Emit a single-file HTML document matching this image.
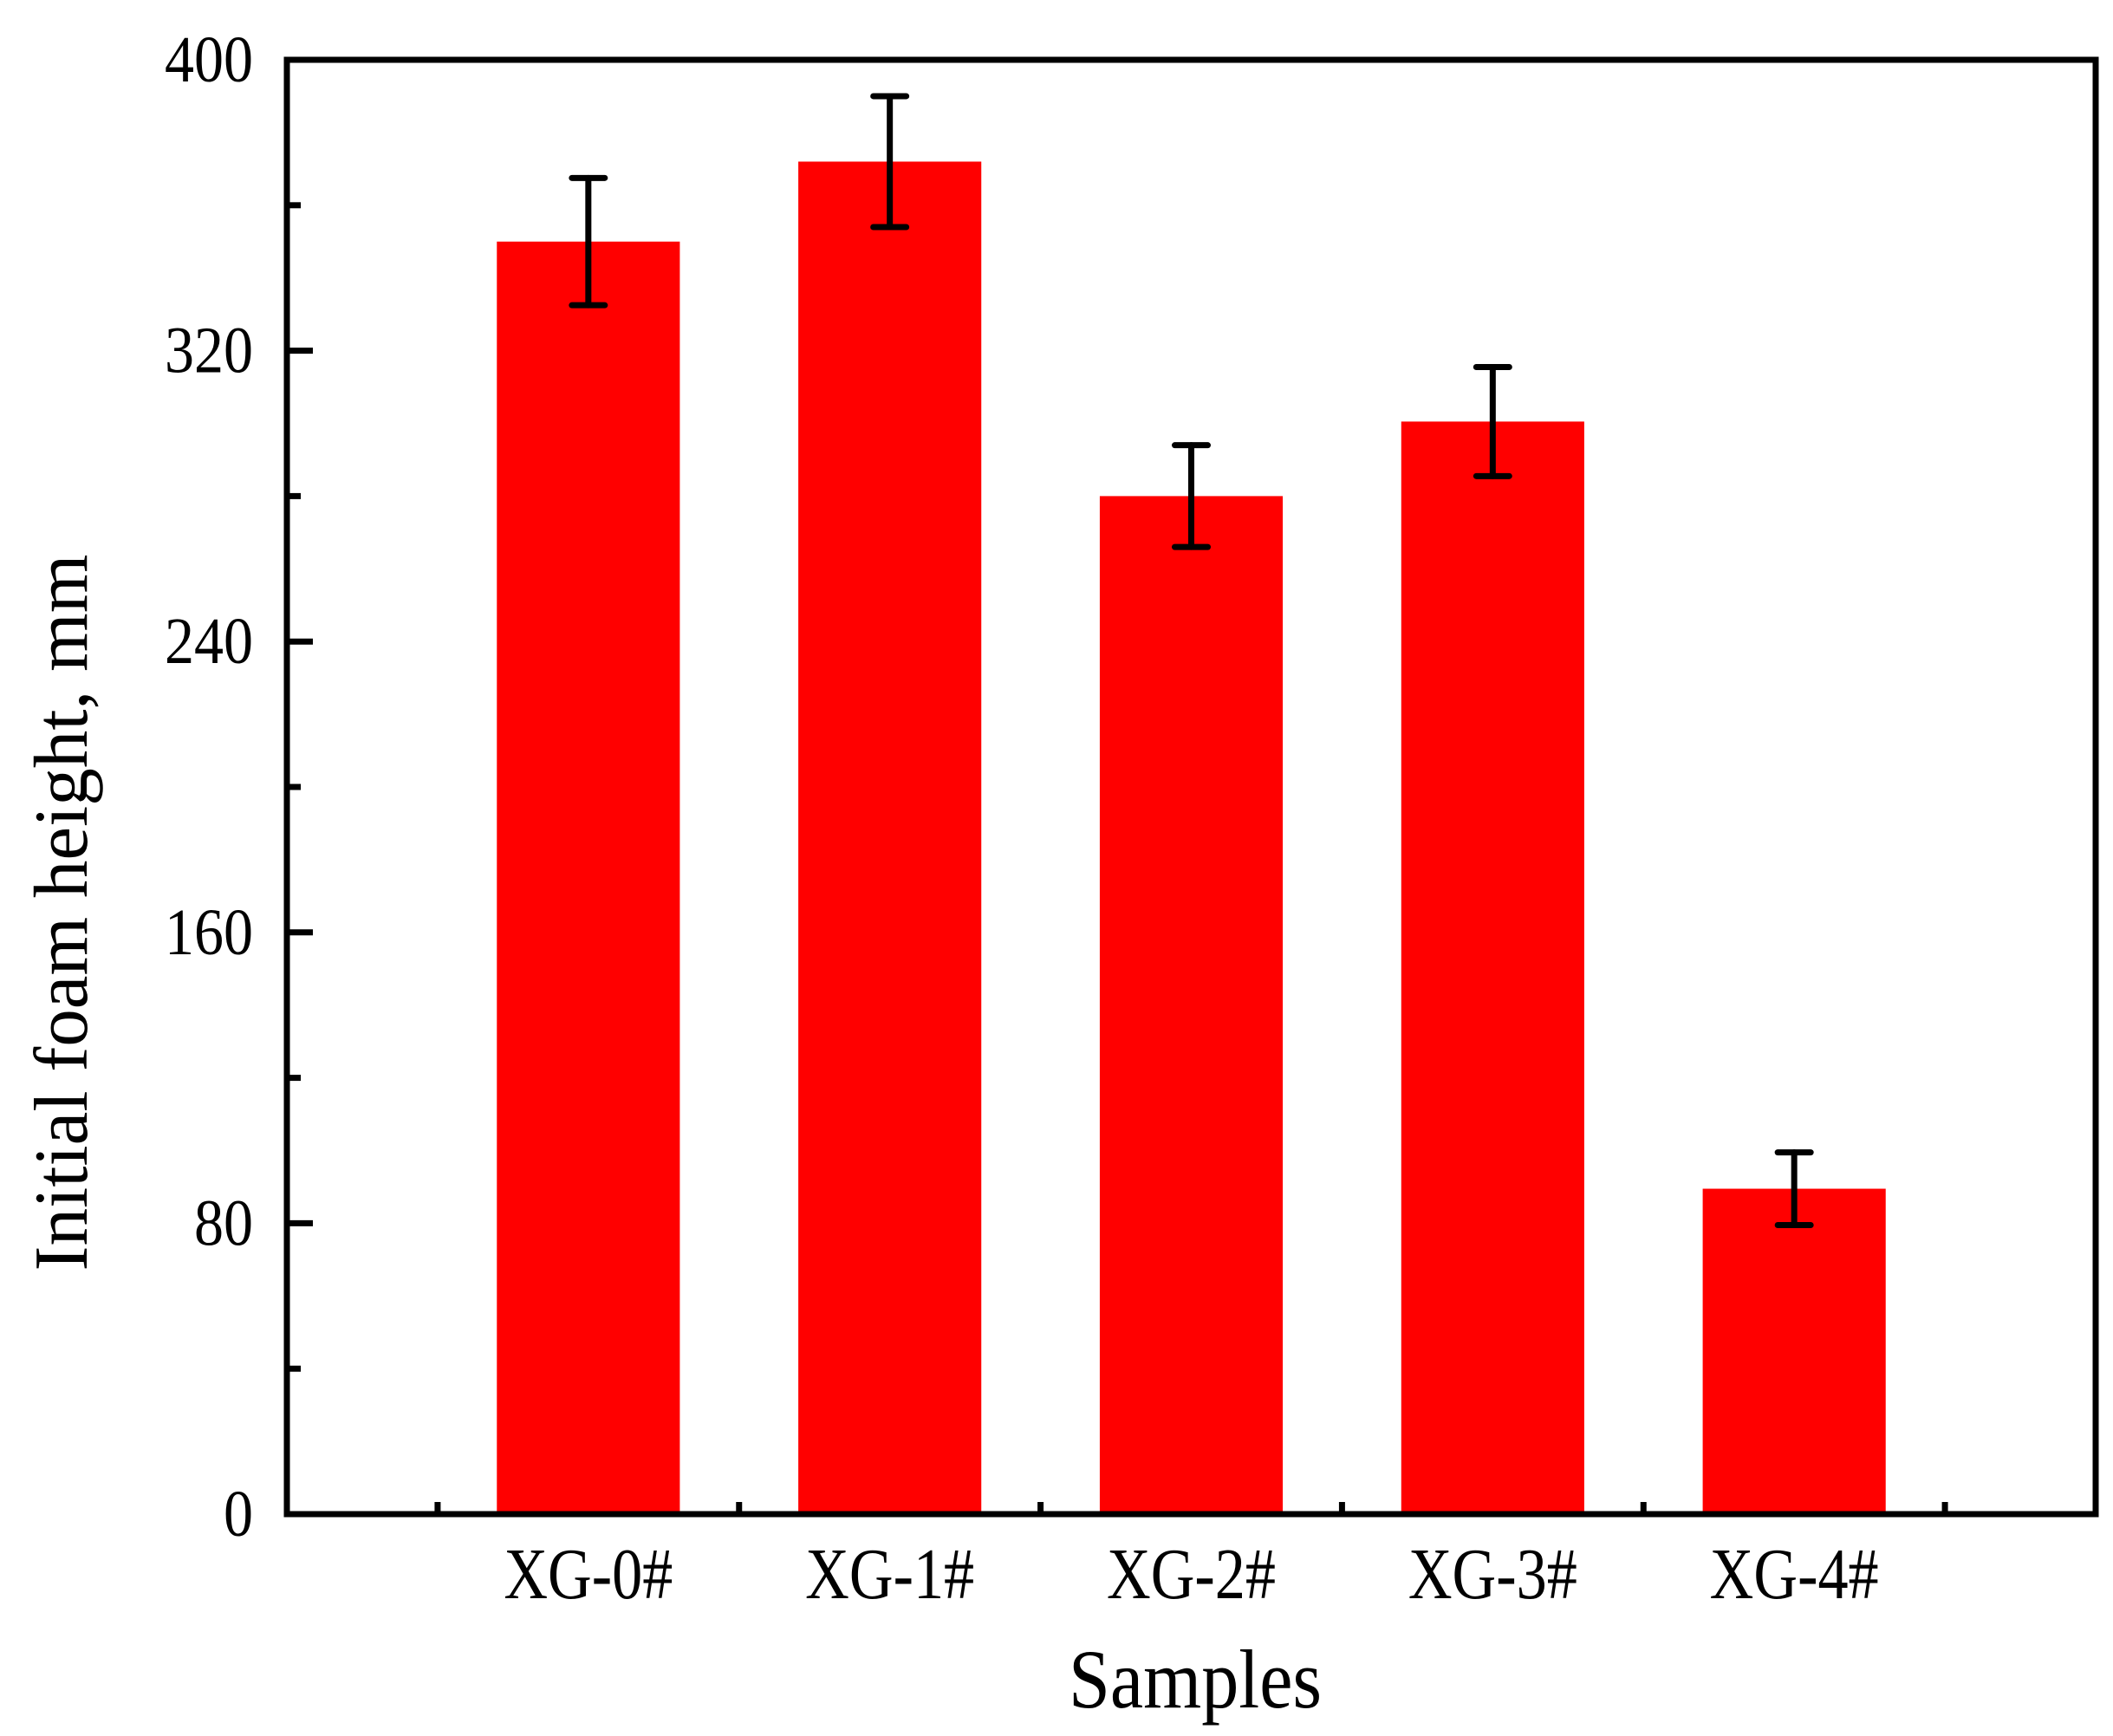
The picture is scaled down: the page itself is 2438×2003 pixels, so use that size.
<!DOCTYPE html>
<html><head><meta charset="utf-8"><style>
html,body{margin:0;padding:0;background:#fff;}
svg{display:block;}
text{font-family:"Liberation Serif",serif;fill:#000;}
</style></head><body>
<svg id="chart" width="2438" height="2003" viewBox="0 0 2438 2003" xmlns="http://www.w3.org/2000/svg"></svg>
<script>
const categories = ["XG-0#","XG-1#","XG-2#","XG-3#","XG-4#"];
const values = [350, 372, 280, 300.5, 89.5];
const errors = [17.5, 18, 14, 15, 10];
const yTicks = [0, 80, 160, 240, 320, 400];
const yMinor = [40, 120, 200, 280, 360];

const L=331, R=2418, T=69, B=1747;
const ns="http://www.w3.org/2000/svg";
const svg=document.getElementById('chart');
function yS(v){return B-(v/400)*(B-T);}
function xS(i){return L+(i/6)*(R-L);}
function mk(tag,attrs,parent){const e=document.createElementNS(ns,tag);for(const k in attrs)e.setAttribute(k,attrs[k]);(parent||svg).appendChild(e);return e;}

const bw=(R-L)/6*0.607;
categories.forEach((c,i)=>{
  const cx=xS(i+1);
  const b=mk('rect',{x:cx-bw/2,y:yS(values[i]),width:bw,height:B-yS(values[i]),fill:'#ff0000'});
  
  
  const g=mk('g',{stroke:'#000','stroke-width':7,'stroke-linecap':'round'});
  
  
  const yt=yS(values[i]+errors[i]), yb=yS(values[i]-errors[i]);
  mk('line',{x1:cx,y1:yt,x2:cx,y2:yb},g);
  mk('line',{x1:cx-19,y1:yt,x2:cx+19,y2:yt},g);
  mk('line',{x1:cx-19,y1:yb,x2:cx+19,y2:yb},g);
  const t=mk('text',{x:cx,y:1844,'text-anchor':'middle','font-size':84,textLength:195,lengthAdjust:'spacingAndGlyphs'});
  t.textContent=c;
  
  
});

const frame=mk('rect',{x:L,y:T,width:R-L,height:B-T,fill:'none',stroke:'#000','stroke-width':7});



yTicks.forEach(v=>{
  mk('line',{x1:L,y1:yS(v),x2:L+30,y2:yS(v),stroke:'#000','stroke-width':7});
  const s=String(v);
  const t=mk('text',{x:292,y:yS(v)+25,'text-anchor':'end','font-size':76,textLength:34*s.length,lengthAdjust:'spacingAndGlyphs'});
  t.textContent=s;
  
  
});
yMinor.forEach(v=>{
  mk('line',{x1:L,y1:yS(v),x2:L+16,y2:yS(v),stroke:'#000','stroke-width':7});
});
for(let k=0;k<6;k++){
  const x=xS(k+0.5);
  mk('line',{x1:x,y1:B,x2:x,y2:B-14,stroke:'#000','stroke-width':7});
}

const yt=mk('text',{x:0,y:0,'text-anchor':'middle','font-size':88,transform:'translate(100,1053) rotate(-90)',textLength:827,lengthAdjust:'spacingAndGlyphs'});
yt.textContent='Initial foam height, mm';



const xt=mk('text',{x:1379,y:1970,'text-anchor':'middle','font-size':96,textLength:292,lengthAdjust:'spacingAndGlyphs'});
xt.textContent='Samples';


</script>
</body></html>
